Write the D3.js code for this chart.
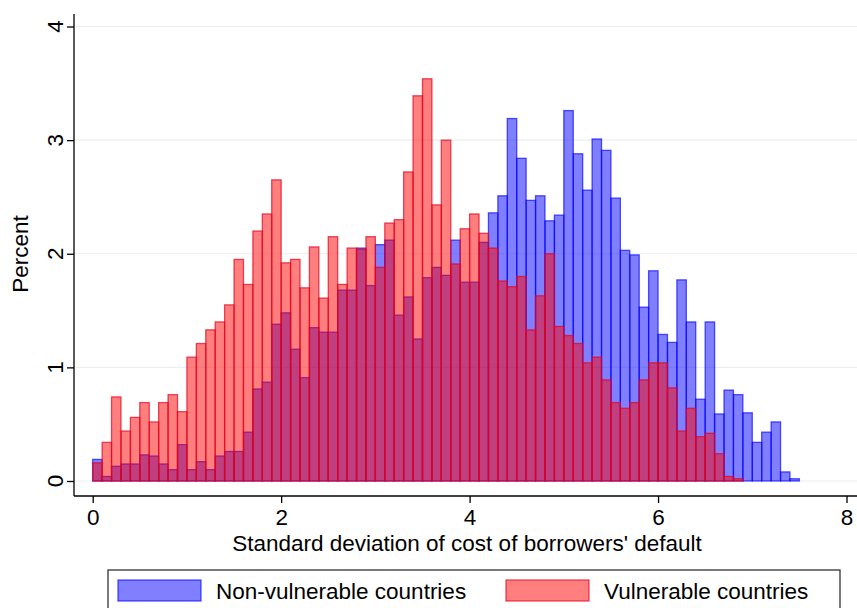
<html>
<head>
<script src="https://d3js.org/d3.v7.min.js"></script>
<style>body{margin:0;background:#fff;} text{font-family:"Liberation Sans",Arial,sans-serif;}</style>
</head>
<body>
<script>
// histogram bins of width 0.1 starting at 0
var binWidth = 0.1;
var nonVulnerable = [0.19,0.04,0.13,0.15,0.15,0.23,0.22,0.15,0.10,0.32,0.10,0.17,0.10,0.22,0.26,0.26,0.43,0.81,0.87,1.38,
  1.48,1.16,0.91,1.35,1.31,1.31,1.68,1.68,2.05,1.72,2.08,2.12,1.46,1.62,1.25,1.79,1.88,1.81,2.12,1.75,
  1.75,2.10,2.36,2.51,3.19,2.84,2.47,2.51,2.29,2.34,3.26,2.88,2.56,3.01,2.91,2.49,2.03,1.99,1.53,1.85,
  1.29,1.22,1.77,1.40,0.72,1.40,0.59,0.80,0.76,0.60,0.34,0.43,0.52,0.08,0.02];
var vulnerable = [0.16,0.34,0.74,0.44,0.56,0.69,0.52,0.69,0.76,0.61,1.09,1.21,1.33,1.40,1.55,1.95,1.73,2.20,2.35,2.65,
  1.92,1.95,1.70,2.06,1.61,2.15,1.73,2.05,2.04,2.15,1.88,2.27,2.30,2.72,3.39,3.54,2.43,3.00,1.91,2.22,
  2.35,2.18,2.05,1.76,1.71,1.80,1.33,1.63,2.00,1.36,1.28,1.21,1.04,1.09,0.89,0.69,0.64,0.69,0.89,1.04,
  1.04,0.82,0.44,0.64,0.39,0.42,0.24,0.04,0.02];
var xTicks = [0,2,4,6,8];
var yTicks = [0,1,2,3,4];

var w = 857, h = 608;
var fs = 22.5;
var svg = d3.select("body").append("svg").attr("width", w).attr("height", h);

var x = d3.scaleLinear().domain([0, 8]).range([92.7, 846.5]);
var y = d3.scaleLinear().domain([0, 4]).range([481, 26.5]);

// gridlines
svg.selectAll(".grid").data(yTicks).enter().append("line")
  .attr("x1", 75).attr("x2", 857)
  .attr("y1", d => y(d)).attr("y2", d => y(d))
  .attr("stroke", "#eaeef2").attr("stroke-width", 1.2);

function drawBars(data, fill, stroke) {
  svg.append("g").selectAll("rect").data(data).enter().append("rect")
    .attr("x", (d, i) => x(i * binWidth))
    .attr("width", (d, i) => x((i + 1) * binWidth) - x(i * binWidth))
    .attr("y", d => y(d))
    .attr("height", d => y(0) - y(d))
    .attr("fill", fill).attr("stroke", stroke).attr("stroke-width", 1.3);
}
drawBars(nonVulnerable, "rgba(0,0,255,0.5)", "rgba(0,0,255,0.65)");
drawBars(vulnerable, "rgba(255,0,0,0.5)", "rgba(230,0,30,0.7)");

// axes
var xAxis = svg.append("g").attr("transform", "translate(0,496)")
  .call(d3.axisBottom(x).tickValues(xTicks).tickFormat(d3.format("d")).tickSize(7).tickPadding(6).tickSizeOuter(0));
xAxis.select(".domain").attr("d", "M74,0H857");
xAxis.selectAll("text").attr("font-size", fs).attr("fill", "#000");

var yAxis = svg.append("g").attr("transform", "translate(74,0)")
  .call(d3.axisLeft(y).tickValues(yTicks).tickFormat("").tickSize(7).tickSizeOuter(0));
yAxis.select(".domain").attr("d", "M0,14V496");
svg.append("g").selectAll("text").data(yTicks).enter().append("text")
  .attr("transform", d => "translate(63," + y(d) + ") rotate(-90)")
  .attr("text-anchor", "middle").attr("font-size", fs).text(d => d);
svg.selectAll(".domain, .tick line").attr("stroke", "#000").attr("stroke-width", 1.3);

svg.append("text").attr("transform", "translate(28,254) rotate(-90)")
  .attr("text-anchor", "middle").attr("font-size", fs).text("Percent");
svg.append("text").attr("x", 467).attr("y", 551)
  .attr("text-anchor", "middle").attr("font-size", fs).text("Standard deviation of cost of borrowers' default");

// legend
var legend = svg.append("g");
legend.append("rect").attr("x", 108).attr("y", 570).attr("width", 732).attr("height", 50)
  .attr("fill", "#fff").attr("stroke", "#333").attr("stroke-width", 1.3);
var items = [["Non-vulnerable countries", "rgba(0,0,255,0.5)", "rgba(0,0,255,0.65)", 118],
             ["Vulnerable countries", "rgba(255,0,0,0.5)", "rgba(230,0,30,0.7)", 506]];
items.forEach(function(it) {
  legend.append("rect").attr("x", it[3]).attr("y", 580).attr("width", 83).attr("height", 21)
    .attr("fill", it[1]).attr("stroke", it[2]).attr("stroke-width", 1.3);
  legend.append("text").attr("x", it[3] + 98).attr("y", 599).attr("font-size", fs).text(it[0]);
});
</script>
</body>
</html>
